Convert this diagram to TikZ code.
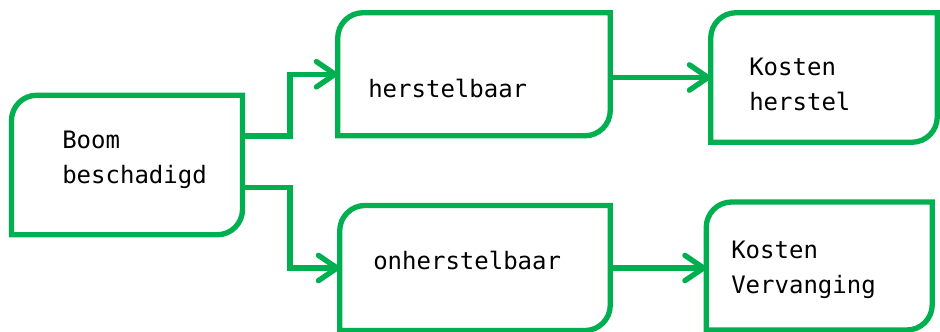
\documentclass[tikz,border=0pt]{standalone}
\usepackage{fontspec}
\newfontfamily\vakfont{DejaVu Sans Mono}
\usetikzlibrary{arrows.meta,positioning}
\definecolor{vakgroen}{RGB}{0,176,80}
\tikzset{
	vak/.style={rectangle,inner sep=0pt},
	rand/.style={draw=vakgroen,line width=4pt},
	pijl/.style={draw=vakgroen,line width=4pt,-{Straight Barb[length=14pt,width=19pt,round]}},
	tekst/.style={anchor=base west,inner sep=0pt,align=left,font=\vakfont\fontsize{18}{26.25}\selectfont}
}

\begin{document}
\begin{tikzpicture}[x=0.75pt,y=-0.75pt]
	\useasboundingbox (0,0) rectangle (940,332);
	\node[vak,minimum width=172.9pt,minimum height=104.25pt](A) at (127,165){};
	\node[vak,minimum width=204pt,minimum height=91.9pt](B) at (474,74.25){};
	\node[vak,minimum width=169.5pt,minimum height=96.75pt](C) at (824,77.5){};
	\node[vak,minimum width=202.5pt,minimum height=93.4pt](D) at (475,268){};
	\node[vak,minimum width=169.1pt,minimum height=95.6pt](E) at (819.25,266){};
	\foreach \v in {A,B,C,D,E}
		\draw[rand](\v.south west) -- ([yshift=-19pt]\v.north west) arc[start angle=180,end angle=90,radius=19pt] -- (\v.north east) -- ([yshift=19pt]\v.south east) arc[start angle=0,end angle=-90,radius=19pt] -- cycle;
	\node[tekst](Atekst) at (62,183){Boom\\beschadigd};
	\node[tekst](Btekst) at (368,97){herstelbaar};
	\node[tekst](Ctekst) at (749,110){Kosten\\herstel};
	\node[tekst](Dtekst) at (373,269){onherstelbaar};
	\node[tekst](Etekst) at (731,293){Kosten\\Vervanging};
	\coordinate(splits) at (290,165);
	\draw[pijl]([yshift=21.75pt]A.east) -| (splits |- B.west) -- (B.west);
	\draw[pijl]([yshift=-16.9pt]A.east) -| (splits |- D.west) -- (D.west);
	\draw[pijl](B.east |- C.west) -- (C.west);
	\draw[pijl](D.east) -- (D.east -| E.west);
\end{tikzpicture}
\end{document}
